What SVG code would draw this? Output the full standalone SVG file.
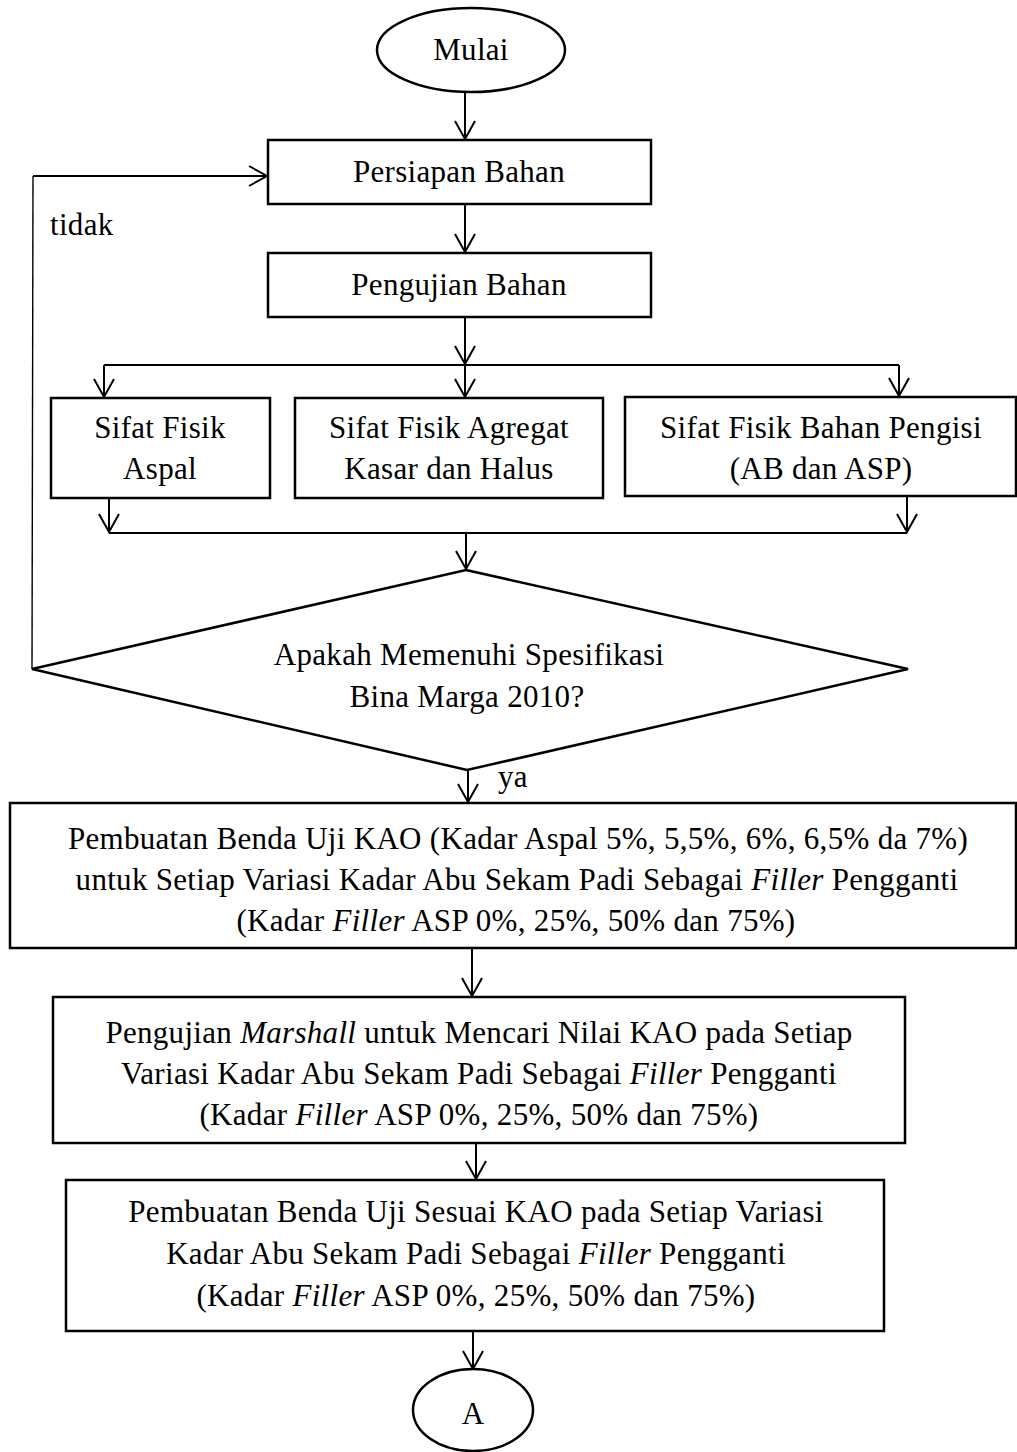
<svg xmlns="http://www.w3.org/2000/svg" width="1017" height="1452" viewBox="0 0 1017 1452">
<style>
.box{fill:#fff;stroke:#000;stroke-width:2.5}
.ln{fill:none;stroke:#000;stroke-width:2}
.thin{fill:none;stroke:#000;stroke-width:1.4}
text{font-family:"Liberation Serif","Times New Roman",serif;font-size:31px;fill:#000;letter-spacing:0.3px}
.c{text-anchor:middle}
.i{font-style:italic}
</style>
<defs>
<marker id="ah" markerUnits="userSpaceOnUse" markerWidth="24" markerHeight="24" viewBox="-21 -12 24 24" refX="0" refY="0" orient="auto" overflow="visible">
<path d="M-18,-10 L0,0 L-18,10" fill="none" stroke="#000" stroke-width="2"/>
</marker>
</defs>
<g id="connectors">
<line class="ln" x1="465" y1="92" x2="465" y2="139" marker-end="url(#ah)"/>
<line class="ln" x1="465" y1="204" x2="465" y2="252" marker-end="url(#ah)"/>
<line class="ln" x1="465" y1="317" x2="465" y2="364" marker-end="url(#ah)"/>
<line class="ln" x1="465" y1="365" x2="465" y2="397" marker-end="url(#ah)"/>
<line class="ln" x1="104" y1="365" x2="899" y2="365"/>
<line class="ln" x1="104" y1="365" x2="104" y2="397" marker-end="url(#ah)"/>
<line class="ln" x1="899" y1="365" x2="899" y2="396" marker-end="url(#ah)"/>
<line class="ln" x1="109" y1="498" x2="109" y2="532" marker-end="url(#ah)"/>
<line class="ln" x1="907" y1="496" x2="907" y2="532" marker-end="url(#ah)"/>
<line class="ln" x1="109" y1="533" x2="907" y2="533"/>
<line class="ln" x1="466" y1="533" x2="466" y2="569" marker-end="url(#ah)"/>
<line class="thin" x1="32" y1="669" x2="33" y2="176"/>
<line class="ln" x1="33" y1="176" x2="267" y2="176" marker-end="url(#ah)"/>
<line class="ln" x1="468" y1="770" x2="468" y2="802" marker-end="url(#ah)"/>
<line class="ln" x1="472" y1="948" x2="472" y2="996" marker-end="url(#ah)"/>
<line class="ln" x1="476" y1="1143" x2="476" y2="1179" marker-end="url(#ah)"/>
<line class="ln" x1="473" y1="1331" x2="473" y2="1369" marker-end="url(#ah)"/>
<text x="50" y="235">tidak</text>
<text x="498" y="787">ya</text>
</g>
<g id="mulai">
<ellipse class="box" cx="471" cy="50" rx="94" ry="42"/>
<text class="c" x="471" y="60">Mulai</text>
</g>
<g id="persiapan">
<rect class="box" x="268" y="140" width="383" height="64"/>
<text class="c" x="459" y="182">Persiapan Bahan</text>
</g>
<g id="pengujian">
<rect class="box" x="268" y="253" width="383" height="64"/>
<text class="c" x="459" y="295">Pengujian Bahan</text>
</g>
<g id="aspal">
<rect class="box" x="51" y="398" width="219" height="100"/>
<text class="c" x="160" y="438">Sifat Fisik</text>
<text class="c" x="160" y="479">Aspal</text>
</g>
<g id="agregat">
<rect class="box" x="295" y="398" width="308" height="100"/>
<text class="c" x="449" y="438">Sifat Fisik Agregat</text>
<text class="c" x="449" y="479">Kasar dan Halus</text>
</g>
<g id="pengisi">
<rect class="box" x="625" y="397" width="391" height="99"/>
<text class="c" x="821" y="438">Sifat Fisik Bahan Pengisi</text>
<text class="c" x="821" y="479">(AB dan ASP)</text>
</g>
<g id="keputusan">
<polygon class="box" points="466,570 908,669 467,770 32,669"/>
<text class="c" x="469" y="665">Apakah Memenuhi Spesifikasi</text>
<text class="c" x="467" y="707">Bina Marga 2010?</text>
</g>
<g id="pembuatan-kao">
<rect class="box" x="10" y="803" width="1006" height="145"/>
<text class="c" x="518" y="849">Pembuatan Benda Uji KAO (Kadar Aspal 5%, 5,5%, 6%, 6,5% da 7%)</text>
<text class="c" x="517" y="890">untuk Setiap Variasi Kadar Abu Sekam Padi Sebagai <tspan class="i">Filler</tspan> Pengganti</text>
<text class="c" x="516" y="931">(Kadar <tspan class="i">Filler</tspan> ASP 0%, 25%, 50% dan 75%)</text>
</g>
<g id="marshall">
<rect class="box" x="53" y="997" width="852" height="146"/>
<text class="c" x="479" y="1043">Pengujian <tspan class="i">Marshall</tspan> untuk Mencari Nilai KAO pada Setiap</text>
<text class="c" x="479" y="1084">Variasi Kadar Abu Sekam Padi Sebagai <tspan class="i">Filler</tspan> Pengganti</text>
<text class="c" x="479" y="1125">(Kadar <tspan class="i">Filler</tspan> ASP 0%, 25%, 50% dan 75%)</text>
</g>
<g id="pembuatan-sesuai">
<rect class="box" x="66" y="1180" width="818" height="151"/>
<text class="c" x="476" y="1222">Pembuatan Benda Uji Sesuai KAO pada Setiap Variasi</text>
<text class="c" x="476" y="1264">Kadar Abu Sekam Padi Sebagai <tspan class="i">Filler</tspan> Pengganti</text>
<text class="c" x="476" y="1306">(Kadar <tspan class="i">Filler</tspan> ASP 0%, 25%, 50% dan 75%)</text>
</g>
<g id="a">
<ellipse class="box" cx="473" cy="1410" rx="60" ry="41"/>
<text class="c" x="473" y="1424">A</text>
</g>
</svg>
